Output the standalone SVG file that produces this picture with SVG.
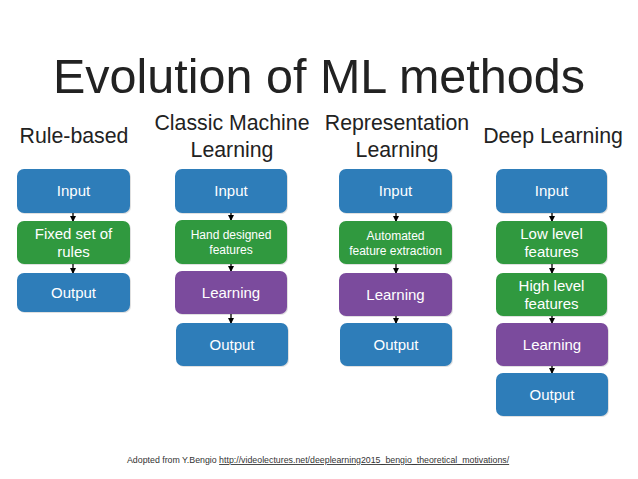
<svg xmlns="http://www.w3.org/2000/svg" width="638" height="479" viewBox="0 0 638 479">
<style>
.t{font-family:"Liberation Sans",Arial,sans-serif;fill:#222;text-anchor:middle}
.title{font-size:48.5px;font-weight:300}
.h{font-size:21.3px}
.bt{font-family:"Liberation Sans",Arial,sans-serif;fill:#fff;text-anchor:middle;font-size:15px}
.bs{font-size:12px}
.blue{fill:#2e7db9}
.green{fill:#30993f}
.purple{fill:#7b4b9d}
.sh{fill:#000;opacity:0.12}
.c line{stroke:#000;stroke-width:1.3}
.foot{font-family:"Liberation Sans",Arial,sans-serif;font-size:8.8px;fill:#333}
</style>
<defs>
<marker id="a" viewBox="0 0 6 6" refX="5" refY="3" markerWidth="5" markerHeight="5" orient="auto"><path d="M0,0 L6,3 L0,6 z" fill="#000"/></marker>
</defs>
<rect width="638" height="479" fill="#fff"/>
<text class="t title" x="319" y="93">Evolution of ML methods</text>
<text class="t h" x="74" y="143">Rule-based</text>
<text class="t h" x="232" y="130">Classic Machine</text>
<text class="t h" x="232" y="157">Learning</text>
<text class="t h" x="397" y="130">Representation</text>
<text class="t h" x="397" y="157">Learning</text>
<text class="t h" x="553" y="143">Deep Learning</text>

<g class="c">
<line x1="73" y1="213" x2="73" y2="221" marker-end="url(#a)"/>
<line x1="73" y1="264" x2="73" y2="273" marker-end="url(#a)"/>
<line x1="231" y1="213" x2="231" y2="220" marker-end="url(#a)"/>
<line x1="231" y1="264" x2="231" y2="271" marker-end="url(#a)"/>
<line x1="231" y1="314" x2="231" y2="323" marker-end="url(#a)"/>
<line x1="396" y1="213" x2="396" y2="221" marker-end="url(#a)"/>
<line x1="396" y1="264" x2="396" y2="273" marker-end="url(#a)"/>
<line x1="396" y1="316" x2="396" y2="323" marker-end="url(#a)"/>
<line x1="552" y1="213" x2="552" y2="221" marker-end="url(#a)"/>
<line x1="552" y1="264" x2="552" y2="273" marker-end="url(#a)"/>
<line x1="552" y1="316" x2="552" y2="323" marker-end="url(#a)"/>
<line x1="552" y1="366" x2="552" y2="373" marker-end="url(#a)"/>
</g>

<g id="rb-input"><rect class="sh" x="18" y="170" width="113" height="44" rx="7"/><rect class="blue" x="17" y="169" width="113" height="44" rx="7"/><text class="bt" x="73.5" y="196">Input</text></g>
<g id="rb-rules"><rect class="sh" x="18" y="222" width="113" height="43" rx="7"/><rect class="green" x="17" y="221" width="113" height="43" rx="7"/><text class="bt" x="73.5" y="239">Fixed set of</text><text class="bt" x="73.5" y="257">rules</text></g>
<g id="rb-output"><rect class="sh" x="18" y="274" width="113" height="39" rx="7"/><rect class="blue" x="17" y="273" width="113" height="39" rx="7"/><text class="bt" x="73.5" y="298">Output</text></g>

<g id="cml-input"><rect class="sh" x="176" y="170" width="112" height="44" rx="7"/><rect class="blue" x="175" y="169" width="112" height="44" rx="7"/><text class="bt" x="231" y="196">Input</text></g>
<g id="cml-features"><rect class="sh" x="176" y="221" width="112" height="44" rx="7"/><rect class="green" x="175" y="220" width="112" height="44" rx="7"/><text class="bt bs" x="231" y="239">Hand designed</text><text class="bt bs" x="231" y="254">features</text></g>
<g id="cml-learning"><rect class="sh" x="176" y="272" width="112" height="43" rx="7"/><rect class="purple" x="175" y="271" width="112" height="43" rx="7"/><text class="bt" x="231" y="298">Learning</text></g>
<g id="cml-output"><rect class="sh" x="177" y="324" width="112" height="43" rx="7"/><rect class="blue" x="176" y="323" width="112" height="43" rx="7"/><text class="bt" x="232" y="350">Output</text></g>

<g id="rl-input"><rect class="sh" x="340" y="170" width="113" height="44" rx="7"/><rect class="blue" x="339" y="169" width="113" height="44" rx="7"/><text class="bt" x="395.5" y="196">Input</text></g>
<g id="rl-features"><rect class="sh" x="340" y="222" width="113" height="43" rx="7"/><rect class="green" x="339" y="221" width="113" height="43" rx="7"/><text class="bt bs" x="395.5" y="240">Automated</text><text class="bt bs" x="395.5" y="255">feature extraction</text></g>
<g id="rl-learning"><rect class="sh" x="340" y="274" width="113" height="43" rx="7"/><rect class="purple" x="339" y="273" width="113" height="43" rx="7"/><text class="bt" x="395.5" y="300">Learning</text></g>
<g id="rl-output"><rect class="sh" x="341" y="324" width="112" height="43" rx="7"/><rect class="blue" x="340" y="323" width="112" height="43" rx="7"/><text class="bt" x="396" y="350">Output</text></g>

<g id="dl-input"><rect class="sh" x="497" y="170" width="111" height="44" rx="7"/><rect class="blue" x="496" y="169" width="111" height="44" rx="7"/><text class="bt" x="551.5" y="196">Input</text></g>
<g id="dl-low"><rect class="sh" x="497" y="222" width="111" height="43" rx="7"/><rect class="green" x="496" y="221" width="111" height="43" rx="7"/><text class="bt" x="551.5" y="239">Low level</text><text class="bt" x="551.5" y="257">features</text></g>
<g id="dl-high"><rect class="sh" x="497" y="274" width="111" height="43" rx="7"/><rect class="green" x="496" y="273" width="111" height="43" rx="7"/><text class="bt" x="551.5" y="291">High level</text><text class="bt" x="551.5" y="309">features</text></g>
<g id="dl-learning"><rect class="sh" x="497" y="324" width="112" height="43" rx="7"/><rect class="purple" x="496" y="323" width="112" height="43" rx="7"/><text class="bt" x="552" y="350">Learning</text></g>
<g id="dl-output"><rect class="sh" x="497" y="374" width="112" height="43" rx="7"/><rect class="blue" x="496" y="373" width="112" height="43" rx="7"/><text class="bt" x="552" y="400">Output</text></g>

<text class="foot" x="127" y="463">Adopted from Y.Bengio <tspan text-decoration="underline">http://videolectures.net/deeplearning2015_bengio_theoretical_motivations/</tspan></text>
</svg>
